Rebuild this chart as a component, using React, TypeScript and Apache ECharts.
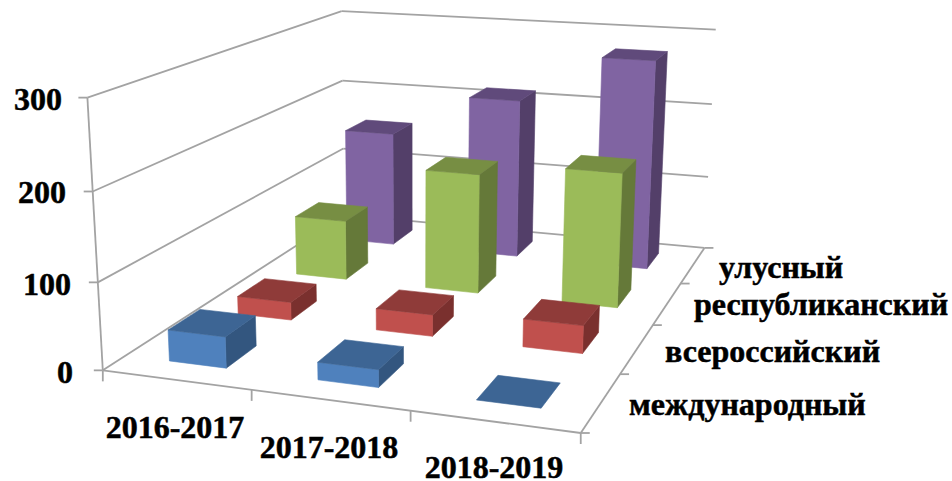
import React, { useEffect, useRef } from "react";
import * as echarts from "echarts";

const categories = ["2016-2017", "2017-2018", "2018-2019"];
const depthLabels = ["международный", "всероссийский", "республиканский", "улусный"];
const valueTicks = [0, 100, 200, 300];
const international = [36, 20, 0];
const allRussian = [22, 26, 33];
const republican = [77, 152, 168];
const ulus = [155, 212, 275];

const seriesValues = [international, allRussian, republican, ulus];
const palette = [
  { front: "#4F81BD", top: "#3D6594", side: "#33567F" },
  { front: "#C0504D", top: "#8F3B39", side: "#7A302E" },
  { front: "#9BBB59", top: "#778E43", side: "#657939" },
  { front: "#8064A2", top: "#604A7B", side: "#533F69" },
];

const GRID = "#A3A3A3";
const FONT = 'bold 32px "Liberation Serif"';
const BAR_W = 0.39; // fraction of a category band
const BAR_D = 0.44; // fraction of a depth band
const BAR_SHIFT = 0.01; // depth offset of the bars inside their band
const TEXT_LINE = 26; // line box of a label
const TEXT_ASCENT = 24; // page pixels from a text's box top to its baseline

// Projection of the unit cube (x right, y back, z up) onto the page
const anchors: number[][] = [
  [0, 0, 0, 102, 370],
  [0, 0, 1, 88, 98],
  [0, 1, 0, 345, 215],
  [0, 1, 1, 341, 11],
  [1, 1, 0, 704, 248],
  [1, 1, 1, 716, 29.5],
  [1, 0, 0, 581, 433],
];

function solveProjection(): number[] {
  const rows: number[][] = [];
  const rhs: number[] = [];
  for (const [x, y, z, u, v] of anchors) {
    rows.push([x, y, z, 1, 0, 0, 0, 0, -u * x, -u * y, -u * z]);
    rhs.push(u);
    rows.push([0, 0, 0, 0, x, y, z, 1, -v * x, -v * y, -v * z]);
    rhs.push(v);
  }
  const n = 11;
  const m: number[][] = [];
  for (let i = 0; i < n; i++) {
    const r: number[] = [];
    for (let j = 0; j < n; j++) {
      let s = 0;
      rows.forEach((row) => (s += row[i] * row[j]));
      r.push(s);
    }
    let b = 0;
    rows.forEach((row, k) => (b += row[i] * rhs[k]));
    r.push(b);
    m.push(r);
  }
  for (let c = 0; c < n; c++) {
    let p = c;
    for (let r = c + 1; r < n; r++) if (Math.abs(m[r][c]) > Math.abs(m[p][c])) p = r;
    [m[c], m[p]] = [m[p], m[c]];
    for (let r = 0; r < n; r++) {
      if (r === c) continue;
      const f = m[r][c] / m[c][c];
      for (let k = c; k <= n; k++) m[r][k] -= f * m[c][k];
    }
  }
  return m.map((r, i) => r[n] / r[i]);
}

const P = solveProjection();
const project = (x: number, y: number, z: number): number[] => {
  const w = P[8] * x + P[9] * y + P[10] * z + 1;
  return [
    (P[0] * x + P[1] * y + P[2] * z + P[3]) / w,
    (P[4] * x + P[5] * y + P[6] * z + P[7]) / w,
  ];
};

// Reads the axes' scales as fractions of the plot box
const scaleOf = (params: any, api: any) => {
  const cs = params.coordSys;
  return (cat: number, val: number) => {
    const c = api.coord([cat, val]);
    return [(c[0] - cs.x) / cs.width, 1 - (c[1] - cs.y) / cs.height];
  };
};

const face = (pts: number[][], fill: string) => ({
  type: "polygon",
  silent: true,
  shape: { points: pts },
  style: { fill, stroke: fill, lineWidth: 0.6 },
});

const edge = (a: number[], b: number[]) => ({
  type: "line",
  silent: true,
  shape: { x1: a[0], y1: a[1], x2: b[0], y2: b[1] },
  style: { stroke: GRID, lineWidth: 1.8 },
});

const renderFrame = (params: any, api: any) => {
  const s = scaleOf(params, api);
  const children: any[] = [];
  valueTicks.forEach((t) => {
    const z = s(0, t)[1];
    const a = project(0, 0, z);
    const b = project(0, 1, z);
    const c = project(1, 1, z);
    children.push(edge(a, b), edge(b, c), edge([a[0] - 9, a[1]], a));
  });
  children.push(edge(project(0, 0, 0), project(0, 0, 1)));
  children.push(edge(project(0, 0, 0), project(1, 0, 0)));
  children.push(edge(project(1, 0, 0), project(1, 1, 0)));
  for (let i = 0; i <= categories.length; i++) {
    const p = project(i / categories.length, 0, 0);
    children.push(edge(p, [p[0], p[1] + 11]));
  }
  for (let i = 0; i <= depthLabels.length; i++) {
    const p = project(1, i / depthLabels.length, 0);
    children.push(edge(p, [p[0] + 9, p[1]]));
  }
  return { type: "group", children };
};

const renderBar = (depth: number) => (params: any, api: any) => {
  const s = scaleOf(params, api);
  const cat = api.value(0);
  const cx = s(cat, 0)[0];
  const h = s(cat, api.value(1))[1];
  const hw = (BAR_W * (1 / categories.length)) / 2;
  const y0 = (depth + 0.5 + BAR_SHIFT - BAR_D / 2) / depthLabels.length;
  const y1 = (depth + 0.5 + BAR_SHIFT + BAR_D / 2) / depthLabels.length;
  const x0 = cx - hw;
  const x1 = cx + hw;
  const c = palette[depth];
  const children: any[] = [];
  if (h > 0) {
    children.push(
      face([project(x1, y0, 0), project(x1, y1, 0), project(x1, y1, h), project(x1, y0, h)], c.side),
      face([project(x0, y0, 0), project(x1, y0, 0), project(x1, y0, h), project(x0, y0, h)], c.front),
    );
  }
  children.push(
    face([project(x0, y0, h), project(x1, y0, h), project(x1, y1, h), project(x0, y1, h)], c.top),
  );
  return { type: "group", children };
};

const label = (text: string, x: number, baseline: number, align: string) => ({
  type: "text",
  silent: true,
  x,
  y: baseline - TEXT_ASCENT,
  style: {
    text,
    font: FONT,
    lineHeight: TEXT_LINE,
    fill: "#000",
    stroke: "#000",
    lineWidth: 0.5,
    textAlign: align,
  },
});

const valueLabelPos = [
  [73, 383],
  [71, 295],
  [66, 203],
  [62, 110],
];
const catLabelPos = [
  [175, 438],
  [329, 458],
  [494, 478],
];
const depthLabelPos = [
  [629, 415],
  [665, 362],
  [694, 315],
  [719, 278],
];

export default function App() {
  const ref = useRef<HTMLDivElement>(null);
  useEffect(() => {
    document.body.style.margin = "0";
    const chart = echarts.init(ref.current!, undefined, { renderer: "svg" });
    const order = seriesValues.map((_, i) => seriesValues.length - 1 - i);
    chart.setOption({
      animation: false,
      backgroundColor: "#fff",
      tooltip: { show: false },
      grid: { left: 0, right: 0, top: 0, bottom: 0 },
      xAxis: { type: "category", data: categories, show: false },
      yAxis: { type: "value", min: 0, max: 300, interval: 100, show: false },
      series: [
        {
          type: "custom",
          coordinateSystem: "cartesian2d",
          silent: true,
          renderItem: renderFrame,
          data: [[0, 0]],
          clip: false,
        },
        ...order.map((d) => ({
          type: "custom",
          coordinateSystem: "cartesian2d",
          silent: true,
          renderItem: renderBar(d),
          data: seriesValues[d].map((v, i) => [i, v]),
          clip: false,
        })),
      ],
      graphic: {
        elements: [
          ...valueTicks.map((t, i) =>
            label(String(t), valueLabelPos[i][0], valueLabelPos[i][1], "right"),
          ),
          ...categories.map((t, i) => label(t, catLabelPos[i][0], catLabelPos[i][1], "center")),
          ...depthLabels.map((t, i) =>
            label(t, depthLabelPos[i][0], depthLabelPos[i][1], "left"),
          ),
        ],
      },
    });
    return () => chart.dispose();
  }, []);
  return <div ref={ref} style={{ width: 952, height: 481 }} />;
}
